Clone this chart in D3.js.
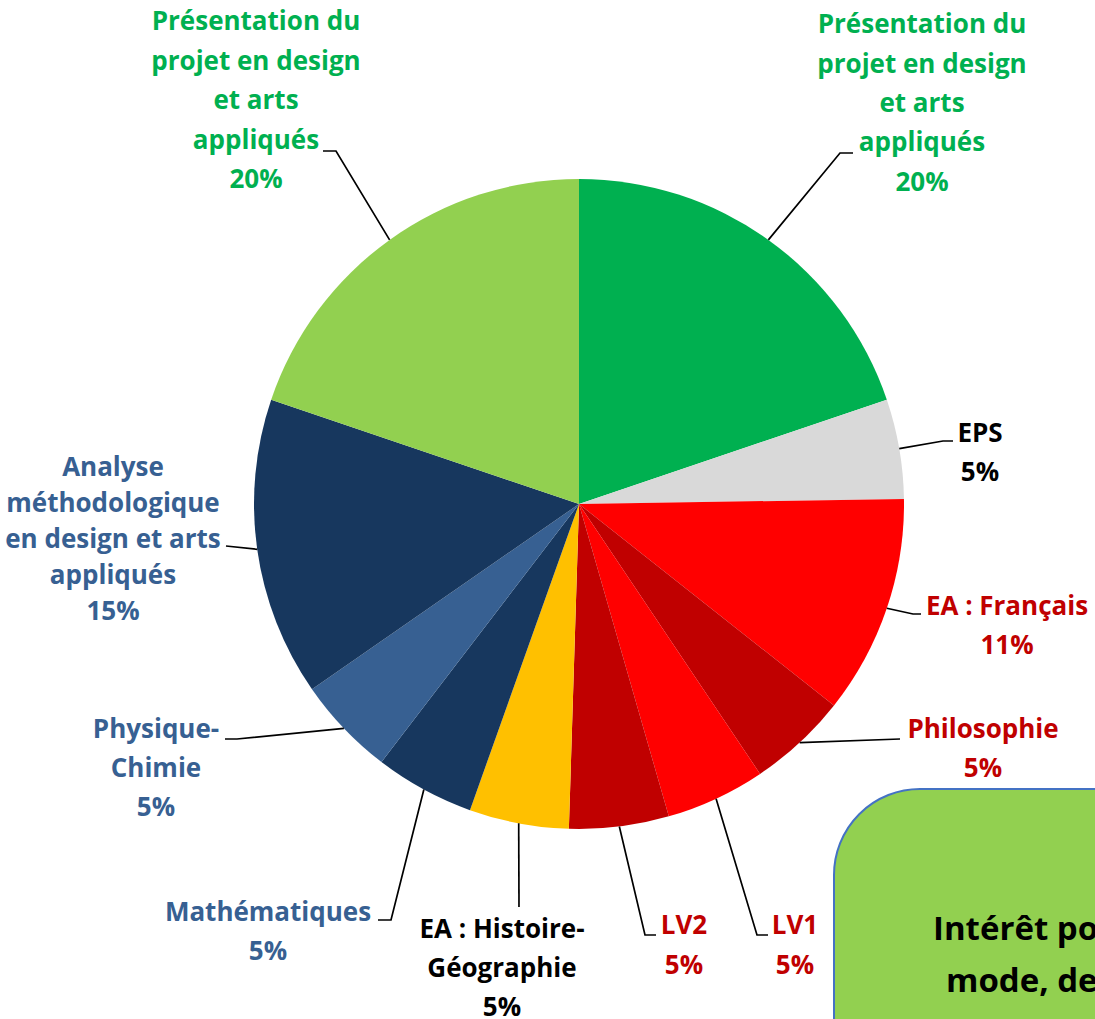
<!DOCTYPE html>
<html>
<head>
<meta charset="utf-8">
<script src="https://cdn.jsdelivr.net/npm/d3@7"></script>
<style>
  html, body { margin: 0; padding: 0; background: #fff; overflow: hidden; }
  text { font-family: "Open Sans", Lato, sans-serif; font-weight: 700; }
</style>
</head>
<body>
<div class="pie-chart"></div>
<script>
// subjects, clockwise from 12 o'clock
const subjects = [
    "Présentation du projet en design et arts appliqués",
    "EPS",
    "EA : Français",
    "Philosophie",
    "LV1",
    "LV2",
    "EA : Histoire-Géographie",
    "Mathématiques",
    "Physique-Chimie",
    "Analyse méthodologique en design et arts appliqués",
    "Présentation du projet en design et arts appliqués"
];
const weights = [20, 5, 11, 5, 5, 5, 5, 5, 5, 15, 20];
const sliceColors = ["#00B050", "#D9D9D9", "#FF0000", "#C00000", "#FF0000", "#C00000",
                     "#FFC000", "#17375E", "#376092", "#17375E", "#92D050"];
const labelColors = ["#00B050", "#000000", "#C00000", "#C00000", "#C00000", "#C00000",
                     "#000000", "#376092", "#376092", "#376092", "#00B050"];
const boxLines = ["Intérêt pour la", "mode, design,", "l'habitat"];

/**
 * label placement: text centre x, first line y, line gap, line breaks,
 * leader elbow and end point
 */
const labelLayout = [
    { x: 922, y: 24, gap: 39.3, lines: ["Présentation du", "projet en design", "et arts", "appliqués"], elbow: [840, 153], end: 853 },
    { x: 980, y: 433, gap: 39, lines: ["EPS"], elbow: [943, 441], end: 953 },
    { x: 1007, y: 606, gap: 39, lines: ["EA : Français"], elbow: [913, 614], end: 921 },
    { x: 983, y: 729, gap: 39, lines: ["Philosophie"], elbow: [900, 739], end: 900 },
    { x: 795, y: 925, gap: 40, lines: ["LV1"], elbow: [757, 935], end: 768 },
    { x: 684, y: 925, gap: 40, lines: ["LV2"], elbow: [645, 935], end: 656 },
    { x: 502, y: 929, gap: 39, lines: ["EA : Histoire-", "Géographie"], elbow: [519, 907], end: 519 },
    { x: 268, y: 912, gap: 39, lines: ["Mathématiques"], elbow: [391, 920], end: 378 },
    { x: 156, y: 729, gap: 39, lines: ["Physique-", "Chimie"], elbow: [237, 739], end: 225 },
    { x: 113, y: 467, gap: 35.8, lines: ["Analyse", "méthodologique", "en design et arts", "appliqués"], elbow: [226, 546], end: 226 },
    { x: 256, y: 21, gap: 39.4, lines: ["Présentation du", "projet en design", "et arts", "appliqués"], elbow: [336, 151], end: 323 }
];

const width = 1095;
const height = 1019;
const cx = 579;
const cy = 504;
const r = 325;

const svg = d3.select(".pie-chart").append("svg")
    .attr("width", width)
    .attr("height", height);

const total = d3.sum(weights);
const data = subjects.map((s, i) => ({ name: s, value: weights[i], i: i }));

const pie = d3.pie().value(d => d.value).sort(null);
const arc = d3.arc().innerRadius(0).outerRadius(r);
const arcs = pie(data);

const g = svg.append("g").attr("transform", `translate(${cx},${cy})`);
g.selectAll("path").data(arcs).enter().append("path")
    .attr("d", arc)
    .attr("fill", d => sliceColors[d.data.i]);

// leader lines
const leaders = svg.append("g");
arcs.forEach(d => {
    const L = labelLayout[d.data.i];
    const a = (d.startAngle + d.endAngle) / 2;
    const p0 = [cx + r * Math.sin(a), cy - r * Math.cos(a)];
    const pts = [p0, L.elbow, [L.end, L.elbow[1]]];
    leaders.append("path")
        .attr("d", d3.line()(pts))
        .attr("fill", "none")
        .attr("stroke", "#000")
        .attr("stroke-width", 1.7);
});

// labels
const labels = svg.append("g");
arcs.forEach(d => {
    const L = labelLayout[d.data.i];
    const pct = Math.round(d.data.value / total * 100) + "%";
    const lines = L.lines.concat([pct]);
    const t = labels.append("text")
        .attr("text-anchor", "middle")
        .attr("fill", labelColors[d.data.i])
        .style("font-size", "26px");
    lines.forEach((ln, k) => {
        t.append("tspan")
            .attr("x", L.x)
            .attr("y", L.y + k * L.gap)
            .attr("dy", "0.36em")
            .text(ln);
    });
});

// green comment box, runs off the page
svg.append("rect")
    .attr("x", 834)
    .attr("y", 789)
    .attr("width", 400)
    .attr("height", 400)
    .attr("rx", 86)
    .attr("fill", "#92D050")
    .attr("stroke", "#4472C4")
    .attr("stroke-width", 2);

const boxText = svg.append("text")
    .attr("fill", "#000")
    .style("font-size", "33px");
[[933, 940], [946, 992], [993, 1044]].forEach((p, k) => {
    boxText.append("tspan")
        .attr("x", p[0])
        .attr("y", p[1])
        .text(boxLines[k]);
});
</script>
</body>
</html>
